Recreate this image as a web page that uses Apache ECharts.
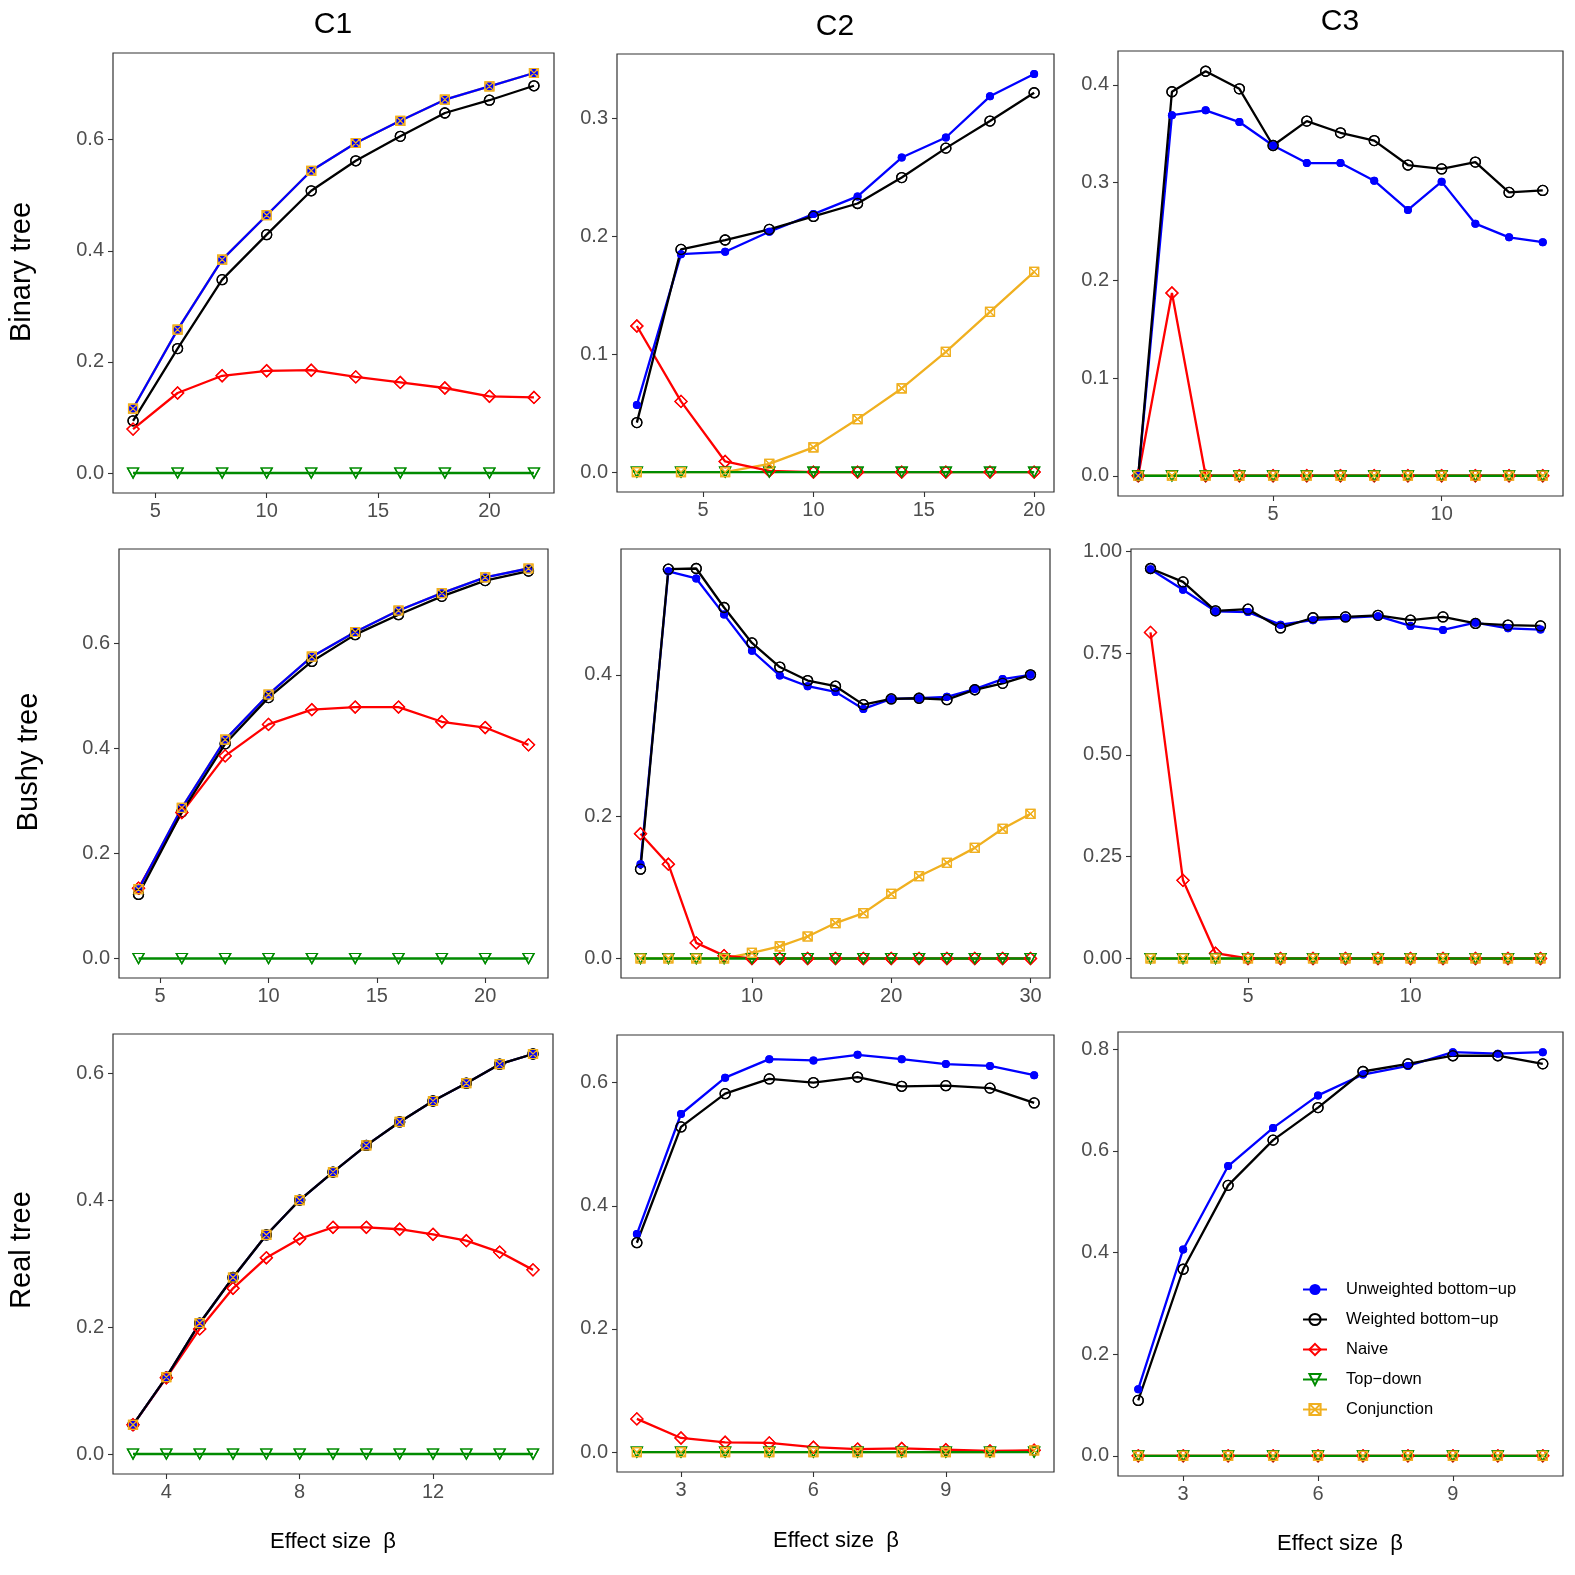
<!DOCTYPE html>
<html>
<head>
<meta charset="utf-8">
<script src="https://cdn.jsdelivr.net/npm/echarts@6/dist/echarts.min.js"></script>
<style>
html,body{margin:0;padding:0;background:#fff;}
#chart{width:1575px;height:1575px;}
</style>
</head>
<body>
<div id="chart"></div>
<script>
// ---------------- DATA ----------------
const methodNames = ['Unweighted bottom\u2212up', 'Weighted bottom\u2212up', 'Naive', 'Top\u2212down', 'Conjunction'];
const colTitles = ['C1', 'C2', 'C3'];
const rowTitles = ['Binary tree', 'Bushy tree', 'Real tree'];
const xTitle = 'Effect size  \u03b2';

// Row 1: Binary tree
const xC1B = [4, 6, 8, 10, 12, 14, 16, 18, 20, 22];
const C1B_unw = [0.116, 0.258, 0.384, 0.464, 0.544, 0.594, 0.634, 0.672, 0.696, 0.720];
const C1B_wtd = [0.094, 0.224, 0.348, 0.429, 0.508, 0.562, 0.606, 0.648, 0.671, 0.697];
const C1B_nai = [0.079, 0.144, 0.175, 0.184, 0.185, 0.173, 0.163, 0.153, 0.138, 0.136];
const C1B_top = [0, 0, 0, 0, 0, 0, 0, 0, 0, 0];
const C1B_con = [0.116, 0.258, 0.384, 0.464, 0.544, 0.594, 0.634, 0.672, 0.696, 0.720];

const xC2B = [2, 4, 6, 8, 10, 12, 14, 16, 18, 20];
const C2B_unw = [0.057, 0.185, 0.187, 0.204, 0.219, 0.234, 0.267, 0.284, 0.319, 0.338];
const C2B_wtd = [0.042, 0.189, 0.197, 0.206, 0.217, 0.228, 0.250, 0.275, 0.298, 0.322];
const C2B_nai = [0.124, 0.060, 0.009, 0.001, 0, 0, 0, 0, 0, 0];
const C2B_top = [0, 0, 0, 0, 0, 0, 0, 0, 0, 0];
const C2B_con = [0, 0, 0, 0.007, 0.021, 0.045, 0.071, 0.102, 0.136, 0.170];

const xC3B = [1, 2, 3, 4, 5, 6, 7, 8, 9, 10, 11, 12, 13];
const C3B_unw = [0, 0.369, 0.374, 0.362, 0.338, 0.320, 0.320, 0.302, 0.272, 0.301, 0.258, 0.244, 0.239];
const C3B_wtd = [0, 0.393, 0.414, 0.396, 0.338, 0.363, 0.351, 0.343, 0.318, 0.314, 0.321, 0.290, 0.292];
const C3B_nai = [0, 0.187, 0, 0, 0, 0, 0, 0, 0, 0, 0, 0, 0];
const C3B_top = [0, 0, 0, 0, 0, 0, 0, 0, 0, 0, 0, 0, 0];
const C3B_con = [0, 0, 0, 0, 0, 0, 0, 0, 0, 0, 0, 0, 0];

// Row 2: Bushy tree
const xC1S = [4, 6, 8, 10, 12, 14, 16, 18, 20, 22];
const C1S_unw = [0.132, 0.287, 0.417, 0.503, 0.575, 0.622, 0.663, 0.696, 0.726, 0.743];
const C1S_wtd = [0.122, 0.279, 0.409, 0.497, 0.566, 0.617, 0.655, 0.690, 0.720, 0.738];
const C1S_nai = [0.134, 0.278, 0.386, 0.446, 0.474, 0.479, 0.479, 0.451, 0.440, 0.407];
const C1S_top = [0, 0, 0, 0, 0, 0, 0, 0, 0, 0];
const C1S_con = [0.132, 0.287, 0.417, 0.503, 0.575, 0.622, 0.663, 0.696, 0.726, 0.743];

const xC2S = [2, 4, 6, 8, 10, 12, 14, 16, 18, 20, 22, 24, 26, 28, 30];
const C2S_unw = [0.133, 0.546, 0.536, 0.485, 0.434, 0.399, 0.384, 0.376, 0.352, 0.366, 0.367, 0.369, 0.380, 0.394, 0.400];
const C2S_wtd = [0.126, 0.549, 0.550, 0.495, 0.445, 0.411, 0.392, 0.384, 0.358, 0.366, 0.367, 0.365, 0.379, 0.388, 0.400];
const C2S_nai = [0.176, 0.133, 0.022, 0.004, 0, 0, 0, 0, 0, 0, 0, 0, 0, 0, 0];
const C2S_top = [0, 0, 0, 0, 0, 0, 0, 0, 0, 0, 0, 0, 0, 0, 0];
const C2S_con = [0, 0, 0, 0, 0.008, 0.017, 0.031, 0.050, 0.064, 0.091, 0.116, 0.135, 0.156, 0.183, 0.204];

const xC3S = [2, 3, 4, 5, 6, 7, 8, 9, 10, 11, 12, 13, 14];
const C3S_unw = [0.956, 0.906, 0.853, 0.851, 0.820, 0.831, 0.837, 0.841, 0.817, 0.807, 0.825, 0.811, 0.808];
const C3S_wtd = [0.958, 0.925, 0.854, 0.858, 0.812, 0.837, 0.839, 0.843, 0.831, 0.839, 0.823, 0.819, 0.817];
const C3S_nai = [0.801, 0.192, 0.013, 0, 0, 0, 0, 0, 0, 0, 0, 0, 0];
const C3S_top = [0, 0, 0, 0, 0, 0, 0, 0, 0, 0, 0, 0, 0];
const C3S_con = [0, 0, 0, 0, 0, 0, 0, 0, 0, 0, 0, 0, 0];

// Row 3: Real tree
const xC1R = [3, 4, 5, 6, 7, 8, 9, 10, 11, 12, 13, 14, 15];
const C1R_unw = [0.046, 0.121, 0.206, 0.278, 0.345, 0.400, 0.444, 0.486, 0.523, 0.556, 0.584, 0.614, 0.630];
const C1R_wtd = [0.046, 0.121, 0.206, 0.278, 0.345, 0.400, 0.444, 0.486, 0.523, 0.556, 0.584, 0.614, 0.630];
const C1R_nai = [0.046, 0.120, 0.197, 0.261, 0.309, 0.339, 0.357, 0.357, 0.354, 0.346, 0.336, 0.318, 0.290];
const C1R_top = [0, 0, 0, 0, 0, 0, 0, 0, 0, 0, 0, 0, 0];
const C1R_con = [0.046, 0.121, 0.206, 0.278, 0.345, 0.400, 0.444, 0.486, 0.523, 0.556, 0.584, 0.614, 0.630];

const xC2R = [2, 3, 4, 5, 6, 7, 8, 9, 10, 11];
const C2R_unw = [0.354, 0.549, 0.608, 0.638, 0.636, 0.645, 0.638, 0.630, 0.627, 0.612];
const C2R_wtd = [0.340, 0.528, 0.582, 0.606, 0.600, 0.609, 0.594, 0.595, 0.591, 0.567];
const C2R_nai = [0.054, 0.023, 0.016, 0.015, 0.008, 0.005, 0.006, 0.004, 0.002, 0.003];
const C2R_top = [0, 0, 0, 0, 0, 0, 0, 0, 0, 0];
const C2R_con = [0, 0, 0, 0, 0, 0, 0, 0, 0, 0.003];

const xC3R = [2, 3, 4, 5, 6, 7, 8, 9, 10, 11];
const C3R_unw = [0.131, 0.406, 0.570, 0.645, 0.709, 0.750, 0.767, 0.794, 0.791, 0.794];
const C3R_wtd = [0.109, 0.367, 0.532, 0.621, 0.685, 0.756, 0.771, 0.787, 0.787, 0.771];
const C3R_nai = [0, 0, 0, 0, 0, 0, 0, 0, 0, 0];
const C3R_top = [0, 0, 0, 0, 0, 0, 0, 0, 0, 0];
const C3R_con = [0, 0, 0, 0, 0, 0, 0, 0, 0, 0];

// Tick labels
const xTicksC1B = [5, 10, 15, 20];
const xTicksC2B = [5, 10, 15, 20];
const xTicksC3B = [5, 10];
const xTicksC1S = [5, 10, 15, 20];
const xTicksC2S = [10, 20, 30];
const xTicksC3S = [5, 10];
const xTicksC1R = [4, 8, 12];
const xTicksC2R = [3, 6, 9];
const xTicksC3R = [3, 6, 9];
const yTicksC1B = [0, 0.2, 0.4, 0.6];
const yTicksC2B = [0, 0.1, 0.2, 0.3];
const yTicksC3B = [0, 0.1, 0.2, 0.3, 0.4];
const yTicksC1S = [0, 0.2, 0.4, 0.6];
const yTicksC2S = [0, 0.2, 0.4];
const yTicksC3S = [0, 0.25, 0.5, 0.75, 1.0];
const yTicksC1R = [0, 0.2, 0.4, 0.6];
const yTicksC2R = [0, 0.2, 0.4, 0.6];
const yTicksC3R = [0, 0.2, 0.4, 0.6, 0.8];

// ---------------- PANEL ASSEMBLY ----------------
const panelData = [
  {x: xC1B, s: [C1B_unw, C1B_wtd, C1B_nai, C1B_top, C1B_con], xt: xTicksC1B, yt: yTicksC1B, dec: 1},
  {x: xC2B, s: [C2B_unw, C2B_wtd, C2B_nai, C2B_top, C2B_con], xt: xTicksC2B, yt: yTicksC2B, dec: 1},
  {x: xC3B, s: [C3B_unw, C3B_wtd, C3B_nai, C3B_top, C3B_con], xt: xTicksC3B, yt: yTicksC3B, dec: 1},
  {x: xC1S, s: [C1S_unw, C1S_wtd, C1S_nai, C1S_top, C1S_con], xt: xTicksC1S, yt: yTicksC1S, dec: 1},
  {x: xC2S, s: [C2S_unw, C2S_wtd, C2S_nai, C2S_top, C2S_con], xt: xTicksC2S, yt: yTicksC2S, dec: 1},
  {x: xC3S, s: [C3S_unw, C3S_wtd, C3S_nai, C3S_top, C3S_con], xt: xTicksC3S, yt: yTicksC3S, dec: 2},
  {x: xC1R, s: [C1R_unw, C1R_wtd, C1R_nai, C1R_top, C1R_con], xt: xTicksC1R, yt: yTicksC1R, dec: 1},
  {x: xC2R, s: [C2R_unw, C2R_wtd, C2R_nai, C2R_top, C2R_con], xt: xTicksC2R, yt: yTicksC2R, dec: 1},
  {x: xC3R, s: [C3R_unw, C3R_wtd, C3R_nai, C3R_top, C3R_con], xt: xTicksC3R, yt: yTicksC3R, dec: 1}
];

// panel frames in pixels: left, top, width, height
const frames = [
  [113, 53, 441, 440], [617, 54, 437, 438], [1118, 51, 445, 445],
  [119, 549, 429, 429], [621, 549, 429, 429], [1131, 549, 429, 429],
  [113, 1034, 440, 440], [617, 1035, 437, 437], [1118, 1032, 445, 444]
];

const FONT = '"Liberation Sans", Arial, Helvetica, sans-serif';
const styles = [
  {color: '#0000FF', symbol: 'circle', size: 8, fill: '#0000FF', bw: 0},
  {color: '#000000', symbol: 'circle', size: 10, fill: 'rgba(0,0,0,0)', bw: 1.3},
  {color: '#FF0000', symbol: 'diamond', size: 12, fill: 'rgba(0,0,0,0)', bw: 1.3},
  {color: '#008B00', symbol: 'triangle', size: [11, 10], fill: 'rgba(0,0,0,0)', bw: 1.3, rot: 180},
  {color: '#F0B020', symbol: 'path://M0,0L10,0L10,10L0,10ZM0,0L10,10M10,0L0,10', size: 9, fill: 'rgba(0,0,0,0)', bw: 1.2}
];
// line drawing order: Conjunction, Naive, Top-down, Unweighted, Weighted
const lineOrder = [4, 2, 3, 0, 1];
// point drawing order (on top of all lines): legend order
const pointOrder = [0, 1, 2, 3, 4];

const grids = [], xAxes = [], yAxes = [], lineSeries = [], pointSeries = [];
panelData.forEach((p, i) => {
  const f = frames[i];
  grids.push({left: f[0], top: f[1], width: f[2], height: f[3], show: true,
    borderColor: '#333333', borderWidth: 1.2, backgroundColor: 'transparent', containLabel: false});
  const xmin = Math.min(...p.x), xmax = Math.max(...p.x);
  const xs = (xmax - xmin) * 0.05;
  let ymax = 0;
  p.s.forEach(a => a.forEach(v => { if (v > ymax) ymax = v; }));
  const ys = ymax * 0.05;
  xAxes.push({
    type: 'value', gridIndex: i, min: xmin - xs, max: xmax + xs,
    axisLine: {show: false, onZero: false},
    splitLine: {show: false},
    axisTick: {show: true, length: 5, lineStyle: {color: '#333333', width: 1.1}, customValues: p.xt},
    axisLabel: {show: true, margin: 8, color: '#4D4D4D', fontSize: 20, fontFamily: FONT,
      customValues: p.xt, formatter: v => String(v)}
  });
  yAxes.push({
    type: 'value', gridIndex: i, min: -ys, max: ymax + ys,
    axisLine: {show: false, onZero: false},
    splitLine: {show: false},
    axisTick: {show: true, length: 5, lineStyle: {color: '#333333', width: 1.1}, customValues: p.yt},
    axisLabel: {show: true, margin: 9, color: '#4D4D4D', fontSize: 20, fontFamily: FONT,
      customValues: p.yt, formatter: v => Number(v).toFixed(p.dec)}
  });
  lineOrder.forEach(k => {
    const st = styles[k];
    lineSeries.push({
      type: 'line', name: methodNames[k], xAxisIndex: i, yAxisIndex: i,
      data: p.x.map((xv, j) => [xv, p.s[k][j]]),
      symbol: st.symbol, symbolSize: st.size, symbolRotate: st.rot || 0,
      showSymbol: true, showAllSymbol: true,
      lineStyle: {color: st.color, width: 2.3},
      itemStyle: {color: st.fill, borderColor: st.color, borderWidth: st.bw},
      emphasis: {disabled: true},
      animation: false, silent: true, z: 2
    });
  });
  pointOrder.forEach(k => {
    const st = styles[k];
    pointSeries.push({
      type: 'scatter', name: methodNames[k], xAxisIndex: i, yAxisIndex: i,
      data: p.x.map((xv, j) => [xv, p.s[k][j]]),
      symbol: st.symbol, symbolSize: st.size, symbolRotate: st.rot || 0,
      itemStyle: {color: st.fill, borderColor: st.color, borderWidth: st.bw, opacity: 1},
      emphasis: {disabled: true},
      animation: false, silent: true, z: 3
    });
  });
});

const graphics = [];
const colCenters = [[333, 25], [835, 27], [1340, 22]];
colTitles.forEach((t, i) => graphics.push({type: 'text', x: colCenters[i][0], y: colCenters[i][1],
  style: {text: t, fontSize: 30, fontFamily: FONT, fill: '#000', align: 'center', verticalAlign: 'middle'}}));
const rowCenters = [[22, 272], [29, 762], [22, 1250]];
rowTitles.forEach((t, i) => graphics.push({type: 'text', x: rowCenters[i][0], y: rowCenters[i][1], rotation: Math.PI / 2,
  style: {text: t, fontSize: 29, fontFamily: FONT, fill: '#000', align: 'center', verticalAlign: 'middle'}}));
const xtCenters = [[333, 1542], [836, 1541], [1340, 1544]];
xtCenters.forEach(c => graphics.push({type: 'text', x: c[0], y: c[1],
  style: {text: xTitle, fontSize: 22, fontFamily: FONT, fill: '#000', align: 'center', verticalAlign: 'middle'}}));

const chart = echarts.init(document.getElementById('chart'), null, {renderer: 'canvas'});
chart.setOption({
  animation: false,
  backgroundColor: '#ffffff',
  grid: grids,
  xAxis: xAxes,
  yAxis: yAxes,
  series: lineSeries.concat(pointSeries),
  legend: {
    show: true, orient: 'vertical', left: 1297, top: 1276,
    data: methodNames,
    itemWidth: 24, itemHeight: 14, itemGap: 13,
    textStyle: {fontSize: 16.5, fontFamily: FONT, color: '#000', padding: [0, 0, 0, 14], lineHeight: 16},
    selectedMode: false
  },
  graphic: graphics
});
</script>
</body>
</html>
